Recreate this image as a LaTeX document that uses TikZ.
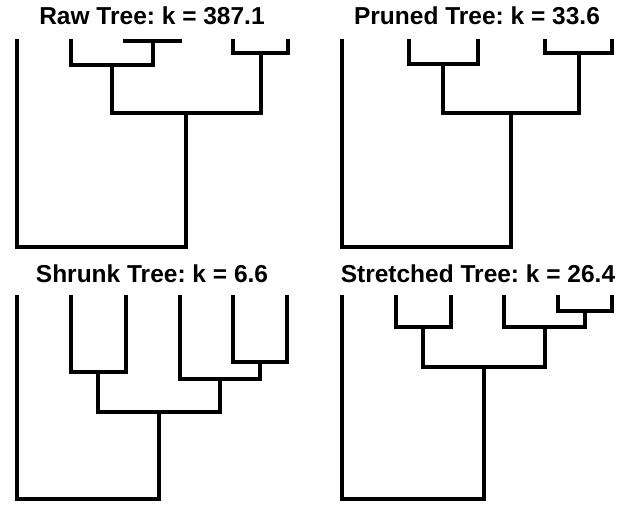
\documentclass[tikz,border=0pt]{standalone}
\usepackage{fontspec}
\setmainfont{Liberation Sans}
\frenchspacing
\begin{document}
\begin{tikzpicture}[x=1pt,y=-1pt,
  branch/.style={line width=3.8pt,line join=miter},
  ttl/.style={font=\bfseries\fontsize{24.5}{27}\selectfont,inner sep=0pt,anchor=base}]
\useasboundingbox (0,0) rectangle (633,506);

% ---------- Raw tree ----------
\node[ttl] (t1) at (152,24) {Raw Tree: k = 387.1};
\coordinate (a1) at (17,39);
\coordinate (a2) at (71,39);
\coordinate (a3) at (125,38.5);
\coordinate (a4) at (180,38.5);
\coordinate (a5) at (233,39);
\coordinate (a6) at (288,39);
\coordinate (a34) at (153,41);
\coordinate (a234) at (112,65);
\coordinate (a56) at (261,53);
\coordinate (ain) at (186,113);
\coordinate (aroot) at (100,247);
\draw[branch] (a3) |- (a34) -| (a4);
\draw[branch] (a2) |- (a234) -| (a34);
\draw[branch] (a5) |- (a56) -| (a6);
\draw[branch] (a234) |- (ain) -| (a56);
\draw[branch] (a1) |- (aroot) -| (ain);

% ---------- Pruned tree ----------
\node[ttl] (t2) at (477,24) {Pruned Tree: k = 33.6};
\coordinate (b1) at (342,39);
\coordinate (b2) at (409,39);
\coordinate (b3) at (478,39);
\coordinate (b4) at (545,39);
\coordinate (b5) at (612,39);
\coordinate (b23) at (443,64);
\coordinate (b45) at (579,53);
\coordinate (bin) at (511,113);
\coordinate (broot) at (420,247);
\draw[branch] (b2) |- (b23) -| (b3);
\draw[branch] (b4) |- (b45) -| (b5);
\draw[branch] (b23) |- (bin) -| (b45);
\draw[branch] (b1) |- (broot) -| (bin);

% ---------- Shrunk tree ----------
\node[ttl] (t3) at (152,282) {Shrunk Tree: k = 6.6};
\coordinate (c1) at (17,295);
\coordinate (c2) at (71,295);
\coordinate (c3) at (126,295);
\coordinate (c4) at (180,295);
\coordinate (c5) at (233,295);
\coordinate (c6) at (287,295);
\coordinate (c23) at (98,372);
\coordinate (c56) at (260,362);
\coordinate (c456) at (220,379);
\coordinate (cin) at (159,412);
\coordinate (croot) at (90,499);
\draw[branch] (c2) |- (c23) -| (c3);
\draw[branch] (c5) |- (c56) -| (c6);
\draw[branch] (c4) |- (c456) -| (c56);
\draw[branch] (c23) |- (cin) -| (c456);
\draw[branch] (c1) |- (croot) -| (cin);

% ---------- Stretched tree ----------
\node[ttl] (t4) at (478,282) {Stretched Tree: k = 26.4};
\coordinate (d1) at (342,295);
\coordinate (d2) at (396,295);
\coordinate (d3) at (451,295);
\coordinate (d4) at (504,295);
\coordinate (d5) at (558,295);
\coordinate (d6) at (612,295);
\coordinate (d23) at (423,327);
\coordinate (d56) at (585,311);
\coordinate (d456) at (545,327);
\coordinate (din) at (484,367);
\coordinate (droot) at (410,499);
\draw[branch] (d2) |- (d23) -| (d3);
\draw[branch] (d5) |- (d56) -| (d6);
\draw[branch] (d4) |- (d456) -| (d56);
\draw[branch] (d23) |- (din) -| (d456);
\draw[branch] (d1) |- (droot) -| (din);
\end{tikzpicture}
\end{document}
